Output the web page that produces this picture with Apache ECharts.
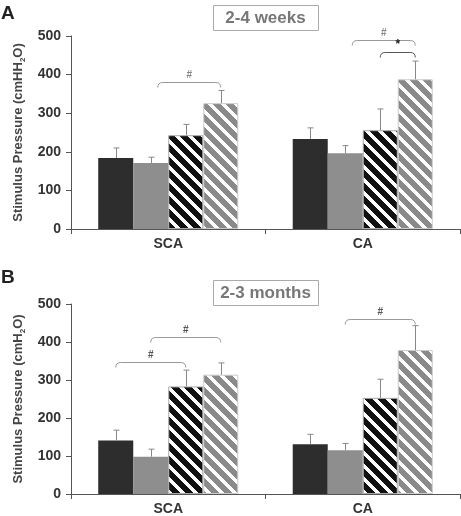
<!DOCTYPE html>
<html><head><meta charset="utf-8">
<script src="https://cdn.jsdelivr.net/npm/echarts@6/dist/echarts.min.js"></script>
<style>html,body{margin:0;padding:0;background:#fff}#c{width:461px;height:516px}</style>
</head><body><div id="c"></div>
<script>
// ---------- DATA ----------
const categories = ['SCA', 'CA'];
const yTicks = [0, 100, 200, 300, 400, 500];
const panelTitles = ['2-4 weeks', '2-3 months'];
const panelLetters = ['A', 'B'];

// Panel A (2-4 weeks): means and SD (upper error)
const weeksSolidDark   = [184, 233];
const weeksSolidGray   = [171, 196];
const weeksStripedDark = [243, 256];
const weeksStripedGray = [326, 388];
const weeksSolidDarkErr   = [26, 29];
const weeksSolidGrayErr   = [15, 20];
const weeksStripedDarkErr = [28, 55];
const weeksStripedGrayErr = [33, 47];
// brackets: [category, fromBar, toBar, value, label]
const weeksBrackets = [
  [0, 1.2, 3, 381, '#'],
  [1, 1.2, 3, 490, '#'],
  [1, 2, 3, 458, '*']
];

// Panel B (2-3 months)
const monthsSolidDark   = [141, 131];
const monthsSolidGray   = [98, 115];
const monthsStripedDark = [283, 253];
const monthsStripedGray = [314, 379];
const monthsSolidDarkErr   = [27, 26];
const monthsSolidGrayErr   = [20, 18];
const monthsStripedDarkErr = [43, 49];
const monthsStripedGrayErr = [31, 64];
const monthsBrackets = [
  [0, 0, 2, 347, '#'],
  [0, 1, 3, 414, '#'],
  [1, 1, 3, 461, '#']
];

// ---------- STYLE ----------
const FONT = '"Liberation Sans", Arial, sans-serif';
const GAP = 0.28;
function stripes(bg) {
  const s = 13, c = document.createElement('canvas');
  c.width = s; c.height = s;
  const ctx = c.getContext('2d');
  const img = ctx.createImageData(s, s);
  const b = [parseInt(bg.substr(1,2),16), parseInt(bg.substr(3,2),16), parseInt(bg.substr(5,2),16)];
  for (let y = 0; y < s; y++) for (let x = 0; x < s; x++) {
    const d = ((x - y) % s + s) % s;
    const w = d < 5;
    const i = (y * s + x) * 4;
    img.data[i] = w ? 255 : b[0]; img.data[i+1] = w ? 255 : b[1]; img.data[i+2] = w ? 255 : b[2]; img.data[i+3] = 255;
  }
  ctx.putImageData(img, 0, 0);
  return { image: c, repeat: 'repeat' };
}
const barStyles = [
  { color: '#2d2d2d' },
  { color: '#8e8e8e' },
  { color: stripes('#111111'), borderColor: '#aaaaaa', borderWidth: 1 },
  { color: stripes('#8a8a8a'), borderColor: '#cccccc', borderWidth: 1 }
];

const panels = [
  { vals: [weeksSolidDark, weeksSolidGray, weeksStripedDark, weeksStripedGray],
    errs: [weeksSolidDarkErr, weeksSolidGrayErr, weeksStripedDarkErr, weeksStripedGrayErr],
    brackets: weeksBrackets, top: 36, unit: 'cmHH' },
  { vals: [monthsSolidDark, monthsSolidGray, monthsStripedDark, monthsStripedGray],
    errs: [monthsSolidDarkErr, monthsSolidGrayErr, monthsStripedDarkErr, monthsStripedGrayErr],
    brackets: monthsBrackets, top: 304, unit: 'cmH' }
];

const grid = [], xAxis = [], yAxis = [], series = [], graphic = [];
panels.forEach((p, k) => {
  grid.push({ left: 71, right: 1, top: p.top, height: 193 });
  xAxis.push({
    type: 'category', gridIndex: k, data: categories,
    axisLine: { lineStyle: { color: '#555', width: 1 } },
    axisTick: { show: true, length: 5, lineStyle: { color: '#555' } },
    axisLabel: { fontFamily: FONT, fontSize: 14, fontWeight: 'bold', color: '#333', margin: 8 }
  });
  yAxis.push({
    type: 'value', gridIndex: k, min: 0, max: 500, interval: 100,
    name: 'Stimulus Pressure (' + p.unit + '{sub|2}O)',
    nameLocation: 'middle', nameGap: 42,
    nameTextStyle: { fontFamily: FONT, fontSize: 13, fontWeight: 'bold', color: '#444', lineHeight: 16,
      rich: { sub: { fontFamily: FONT, fontSize: 8, fontWeight: 'bold', color: '#444', verticalAlign: 'bottom', lineHeight: 16 } } },
    axisLine: { show: true, lineStyle: { color: '#555', width: 1 } },
    axisTick: { show: true, length: 5, lineStyle: { color: '#555' } },
    splitLine: { show: false },
    axisLabel: { fontFamily: FONT, fontSize: 14, fontWeight: 'bold', color: '#333', margin: 10,
      formatter: v => yTicks.indexOf(v) >= 0 ? String(v) : '' }
  });
  p.vals.forEach((v, j) => {
    series.push({
      type: 'bar', xAxisIndex: k, yAxisIndex: k, data: v,
      barGap: '0%', barCategoryGap: (GAP * 100) + '%',
      itemStyle: barStyles[j], silent: true, animation: false
    });
  });
  // error bars
  const errData = [];
  p.vals.forEach((v, j) => v.forEach((m, c) => errData.push([c, m, p.errs[j][c], j])));
  series.push({
    type: 'custom', xAxisIndex: k, yAxisIndex: k, animation: false, silent: true, z: 5,
    data: errData,
    renderItem: (params, api) => {
      const c = api.value(0), m = api.value(1), e = api.value(2), j = api.value(3);
      const band = api.size([1, 0])[0];
      const bw = band * (1 - GAP) / 4;
      const base = api.coord([c, m]);
      const topP = api.coord([c, m + e]);
      const x = Math.round(base[0] + (j - 1.5) * bw) + 0.5;
      return { type: 'group', children: [
        { type: 'line', shape: { x1: x, y1: base[1], x2: x, y2: topP[1] }, style: { stroke: '#888', lineWidth: 1 } },
        { type: 'line', shape: { x1: x - 3, y1: topP[1], x2: x + 3, y2: topP[1] }, style: { stroke: '#888', lineWidth: 1 } }
      ]};
    }
  });
  // brackets
  series.push({
    type: 'custom', xAxisIndex: k, yAxisIndex: k, animation: false, silent: true, z: 6,
    data: p.brackets.map(b => [b[0], b[1], b[2], b[3]]),
    renderItem: (params, api) => {
      const b = p.brackets[params.dataIndex];
      const band = api.size([1, 0])[0];
      const bw = band * (1 - GAP) / 4;
      const pt = api.coord([b[0], b[3]]);
      const x1 = pt[0] + (b[1] - 1.5) * bw, x2 = pt[0] + (b[2] - 1.5) * bw, y = Math.round(pt[1]) + 0.5;
      const star = b[4] === '*';
      const col = star ? '#555' : '#999';
      const r = 5;
      return { type: 'group', children: [
        { type: 'path', shape: { pathData: `M${x1},${y + 5} Q${x1},${y} ${x1 + r},${y} L${x2 - r},${y} Q${x2},${y} ${x2},${y + 5}` },
          style: { stroke: col, lineWidth: 1, fill: null } },
        { type: 'text', x: (x1 + x2) / 2, y: y - 2,
          style: { text: b[4], fontFamily: FONT, fontSize: star ? 12 : 10, fontWeight: 'bold',
            fill: star ? '#222' : (k === 1 ? '#555' : '#888'), align: 'center', verticalAlign: 'bottom' } }
      ]};
    }
  });
  const by = k === 0 ? 5 : 280;
  graphic.push({ type: 'rect', left: 213, top: by, shape: { width: 105, height: 25 },
    style: { fill: '#fff', stroke: '#aaa', lineWidth: 1 }, z: 10 });
  graphic.push({ type: 'text', x: 265.5, y: by + 13, z: 11,
    style: { text: panelTitles[k], fontFamily: FONT, fontSize: 17, fontWeight: 'bold', fill: '#777', align: 'center', verticalAlign: 'middle' } });
  graphic.push({ type: 'text', x: 1, y: k === 0 ? 4 : 268, z: 11,
    style: { text: panelLetters[k], fontFamily: FONT, fontSize: 19, fontWeight: 'bold', fill: '#222' } });
});

const chart = echarts.init(document.getElementById('c'), null, { renderer: 'canvas' });
chart.setOption({ animation: false, backgroundColor: '#fff', grid, xAxis, yAxis, series, graphic });
</script>
</body></html>
